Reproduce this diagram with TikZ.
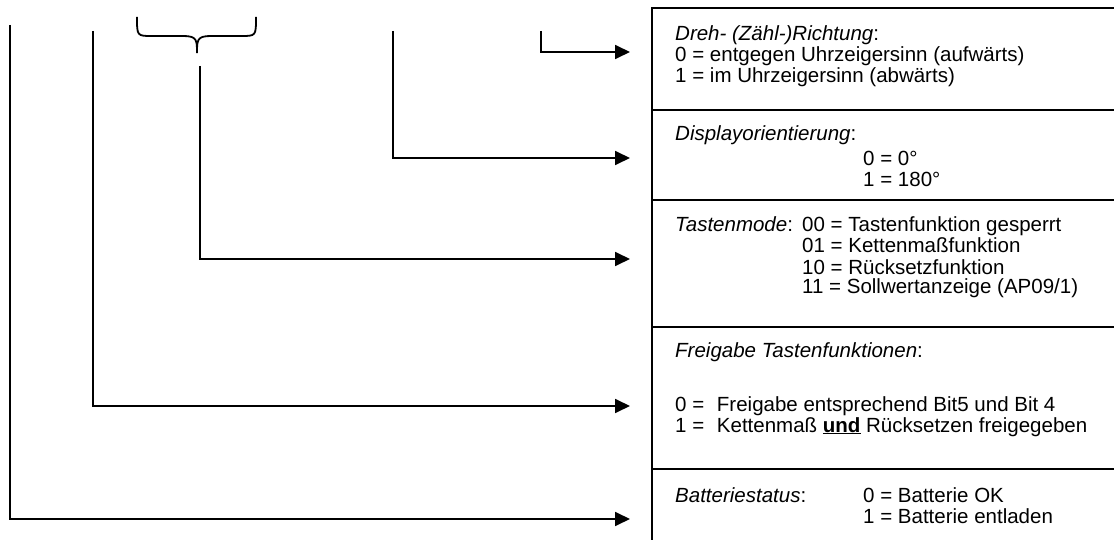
\documentclass[tikz,border=0pt]{standalone}
\usepackage{fontspec}
\setmainfont{Liberation Sans}
\usetikzlibrary{arrows.meta,positioning}
\tikzstyle{cell} = [draw, rectangle, line width=1.8pt, outer sep=0pt, inner sep=0pt, minimum width=470pt, anchor=north west]
\tikzstyle{txt} = [inner sep=0pt, anchor=base west]
\tikzstyle{line} = [draw, line width=1.8pt, -{Triangle[length=15pt,width=14pt]}]

\begin{document}
\begin{tikzpicture}[x=1pt, y=-1pt, font=\fontsize{20.5}{21}\selectfont]
    \useasboundingbox (0,0) rectangle (1114,540);
    % Cells
    \node [cell, minimum height=102pt] (dreh) at (652,8) {};
    \node [cell, minimum height=90pt, below=0pt of dreh] (disp) {};
    \node [cell, minimum height=127pt, below=0pt of disp] (taste) {};
    \node [cell, minimum height=142pt, below=0pt of taste] (frei) {};
    \node [cell, minimum height=80pt, below=0pt of frei] (batt) {};

    % Texts
    \node [txt] (drehT) at (675,41) {\textit{Dreh- (Zähl-)Richtung}:};
    \node [txt] (drehA) at (675,62) {0 = entgegen Uhrzeigersinn (aufwärts)};
    \node [txt] (drehB) at (675,83) {1 = im Uhrzeigersinn (abwärts)};
    \node [txt] (dispT) at (675,141) {\textit{Displayorientierung}:};
    \node [txt] (dispA) at (863,166) {0 = 0°};
    \node [txt] (dispB) at (863,187) {1 = 180°};
    \node [txt] (tasteT) at (675,232) {\textit{Tastenmode}:};
    \node [txt] (tasteA) at (802,232) {00 = Tastenfunktion gesperrt};
    \node [txt] (tasteB) at (802,253) {01 = Kettenmaßfunktion};
    \node [txt] (tasteC) at (802,274) {10 = Rücksetzfunktion};
    \node [txt] (tasteD) at (802,294) {11 = Sollwertanzeige (AP09/1)};
    \node [txt] (freiT) at (675,357) {\textit{Freigabe Tastenfunktionen}:};
    \node [txt] (freiA) at (675,411) {0 =\hspace*{7pt} Freigabe entsprechend Bit5 und Bit 4};
    \node [txt] (freiB) at (675,432) {1 =\hspace*{7pt} Kettenmaß \underline{\textbf{und}} Rücksetzen freigegeben};
    \node [txt] (battT) at (675,502) {\textit{Batteriestatus}:};
    \node [txt] (battA) at (863,502) {0 = Batterie OK};
    \node [txt] (battB) at (863,523) {1 = Batterie entladen};

    % Brace over bits 5 and 4
    \draw [line width=1.8pt] (137,17) .. controls (137,36) and (137,36) .. (152,36) -- (183,36)
        .. controls (197,36) and (197,40) .. (197,53)
        .. controls (197,40) and (197,36) .. (211,36) -- (241,36)
        .. controls (256,36) and (256,36) .. (256,17);

    % Bit lines
    \coordinate (bitBatt) at (10,25);
    \coordinate (bitFrei) at (93,31);
    \coordinate (bitTaste) at (200,66);
    \coordinate (bitDisp) at (393,31);
    \coordinate (bitDreh) at (541,31);
    \coordinate (inDreh) at (630,52);
    \coordinate (inDisp) at (630,158);
    \coordinate (inTaste) at (630,259);
    \coordinate (inFrei) at (630,406);
    \coordinate (inBatt) at (630,519);

    % Paths
    \path [line] (bitDreh) |- (inDreh);
    \path [line] (bitDisp) |- (inDisp);
    \path [line] (bitTaste) |- (inTaste);
    \path [line] (bitFrei) |- (inFrei);
    \path [line] (bitBatt) |- (inBatt);
\end{tikzpicture}
\end{document}
